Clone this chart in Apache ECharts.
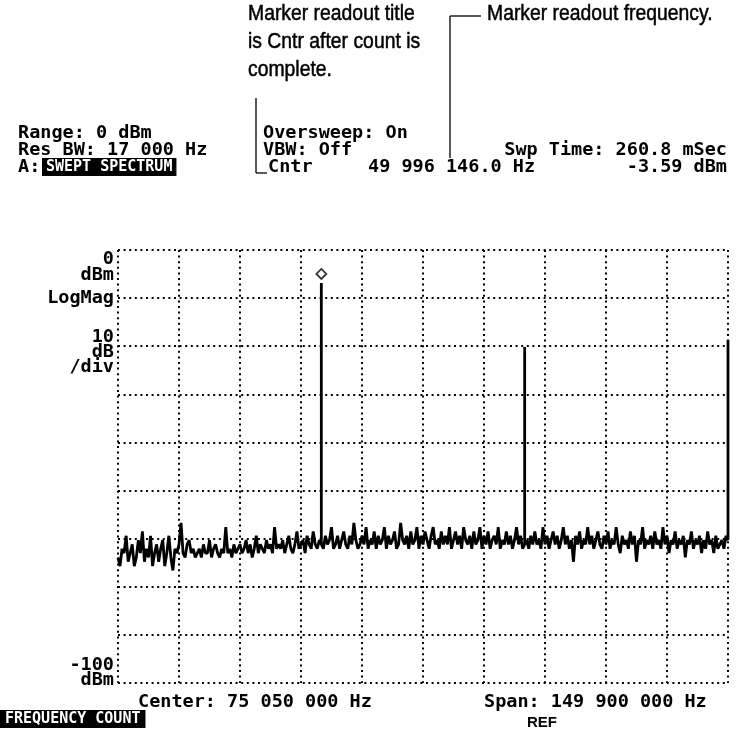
<!DOCTYPE html>
<html lang="en">
<head>
  <meta charset="UTF-8">
  <title>Frequency count - swept spectrum</title>
  <script src="https://cdn.jsdelivr.net/npm/echarts@6/dist/echarts.min.js"></script>
  <style>
    body { margin: 0; background: #fff; }
    #chart { width: 737px; height: 733px; }
  </style>
</head>
<body>
  <div id="chart"></div>
  <script>
    // sweep: 0 .. 150 MHz, a sample every 0.5 MHz (noise floor, dBm)
    const sweepStepMHz = 0.5;
    const noiseDbm = [
      -71, -73, -69, -70, -66, -72, -70, -68, -73, -71, -67, -70, -65, -72, -69, -71, -66, -73, -70, -68,
      -72, -69, -67, -73, -70, -66, -71, -74, -69, -70, -68, -63, -70, -71, -68, -67, -70, -69, -71, -70,
      -69, -71, -68, -70, -70, -67, -71, -69, -68, -70, -71, -69, -70, -64, -70, -69, -71, -68, -70, -69,
      -68, -70, -69, -67, -70, -68, -71, -69, -66, -70, -68, -69, -70, -67, -69, -68, -70, -64, -69, -68,
      -69, -67, -70, -68, -66, -69, -70, -68, -65, -69, -68, -67, -70, -66, -68, -69, -65, -68, -69, -67,
      -68,
      -69, -66, -68, -67, -64, -69, -68, -66, -69, -67, -65, -68, -69, -66, -68, -63, -67, -69, -68, -66,
      -68, -64, -69, -67, -68, -65, -69, -66, -68, -67, -64, -69, -66, -68, -67, -65, -69, -68, -63, -67,
      -68, -66, -69, -65, -68, -67, -64, -69, -66, -68, -65, -67, -69, -66, -64, -68, -67, -69, -65, -68,
      -66, -68, -64, -69, -67, -65, -68, -66, -69, -64, -67, -68, -66, -69, -65, -68, -67, -64, -69, -66,
      -68, -65, -69, -67, -66, -68, -64, -69, -67, -68, -65, -68, -66, -69, -67, -64, -68, -66, -69,
      -68,
      -67, -69, -66, -68, -65, -68, -67, -69, -64, -68, -66, -69, -67, -65, -68, -66, -69, -67, -64, -68,
      -66, -69, -67, -72, -66, -68, -65, -69, -67, -68, -64, -68, -66, -69, -67, -65, -68, -69, -66, -68,
      -65, -69, -67, -68, -64, -68, -70, -66, -68, -67, -69, -65, -68, -66, -72, -67, -68, -64, -69, -67,
      -68, -66, -69, -65, -68, -67, -69, -64, -68, -66, -70, -67, -68, -65, -69, -67, -68, -66, -71, -67,
      -68, -65, -69, -67, -68, -66, -70, -67, -69, -65, -68, -67, -70, -66, -69, -68, -67, -69, -66,
      -67
    ];
    // signal lines [MHz, dBm]
    const peaks = [[50, -7.6], [100, -22.4], [150, -20.8]];
    const markerFreqMHz = 50;

    const gridLeft = 118, gridTop = 250, gridW = 610, gridH = 433;

    // build the trace, spikes drawn as vertical lines at the peak frequency
    const trace = [];
    noiseDbm.forEach((v, i) => {
      const f = i * sweepStepMHz;
      trace.push([f, v]);
      const pk = peaks.find(p => p[0] === f);
      if (pk) {
        trace.push([f, pk[1]]);
        if (i < noiseDbm.length - 1) trace.push([f, v]);
      }
    });
    const markerPeak = peaks.find(p => p[0] === markerFreqMHz);

    const mono = '"DejaVu Sans Mono", "Liberation Mono", monospace';
    const sans = '"Liberation Sans", Arial, sans-serif';

    function txt(x, y, text, align, extra, scaleX) {
      const el = {
        type: 'text', x: x, y: y,
        style: Object.assign({
          text: text, fill: '#000', font: 'bold 18.5px ' + mono,
          align: align || 'left', verticalAlign: 'middle'
        }, extra || {})
      };
      if (scaleX) el.scaleX = scaleX;
      return el;
    }
    function note(x, y, text) {
      return txt(x, y, text, 'left', { font: '22px ' + sans, stroke: '#000', lineWidth: 0.5 }, 0.88);
    }
    function seg(x1, y1, x2, y2) {
      return { type: 'line', shape: { x1: x1, y1: y1, x2: x2, y2: y2 },
        style: { stroke: '#000', lineWidth: 1.3 } };
    }

    const chart = echarts.init(document.getElementById('chart'));
    const dotted = { color: '#000', width: 2, type: [2, 3.6] };

    chart.setOption({
      animation: false,
      backgroundColor: '#fff',
      grid: { left: gridLeft, top: gridTop, width: gridW, height: gridH },
      xAxis: {
        type: 'value', min: 0, max: 150, interval: 15,
        axisLine: { show: false }, axisTick: { show: false }, axisLabel: { show: false },
        splitLine: { show: true, lineStyle: dotted }
      },
      yAxis: {
        type: 'value', min: -100, max: 0, interval: 100 / 9,
        axisLine: { show: false }, axisTick: { show: false }, axisLabel: { show: false },
        splitLine: { show: true, lineStyle: dotted }
      },
      series: [
        {
          type: 'line', data: trace, symbol: 'none', clip: false,
          lineStyle: { color: '#000', width: 2.8 }
        },
        {
          type: 'scatter', data: [markerPeak], symbol: 'diamond', symbolSize: 10,
          symbolOffset: [0, -9],
          itemStyle: { color: '#fff', borderColor: '#000', borderWidth: 1.8 }
        }
      ],
      graphic: [
        // annotations above the screen
        note(248, 14, 'Marker readout title'),
        note(248, 42, 'is Cntr after count is'),
        note(248, 70, 'complete.'),
        note(487, 14, 'Marker readout frequency.'),
        seg(256, 98, 256, 173), seg(256, 173, 267, 173),
        seg(450, 16, 450, 158), seg(450, 16, 481, 16),
        // header readouts
        txt(18, 133, 'Range: 0 dBm'),
        txt(18, 150, 'Res BW: 17 000 Hz'),
        txt(18, 167, 'A:'),
        txt(42, 167, 'SWEPT SPECTRUM', 'left', { fill: '#fff', font: 'bold 15px ' + mono, backgroundColor: '#000', padding: [2, 4, 1, 4] }),
        txt(263, 133, 'Oversweep: On'),
        txt(263, 150, 'VBW: Off'),
        txt(268, 167, 'Cntr'),
        txt(368, 167, '49 996 146.0 Hz'),
        txt(727, 150, 'Swp Time: 260.8 mSec', 'right'),
        txt(727, 167, '-3.59 dBm', 'right'),
        // left side labels
        txt(114, 259, '0', 'right'),
        txt(114, 275, 'dBm', 'right'),
        txt(114, 298, 'LogMag', 'right'),
        txt(114, 337, '10', 'right'),
        txt(114, 352, 'dB', 'right'),
        txt(114, 367, '/div', 'right'),
        txt(114, 665, '-100', 'right'),
        txt(114, 680, 'dBm', 'right'),
        // footer
        txt(138, 702, 'Center: 75 050 000 Hz'),
        txt(484, 702, 'Span: 149 900 000 Hz'),
        txt(0, 719, 'FREQUENCY COUNT', 'left', { fill: '#fff', font: 'bold 15px ' + mono, backgroundColor: '#000', padding: [2, 5, 1, 5] }),
        txt(527, 723, 'REF', 'left', { font: 'bold 15px ' + sans })
      ]
    });
  </script>
</body>
</html>
